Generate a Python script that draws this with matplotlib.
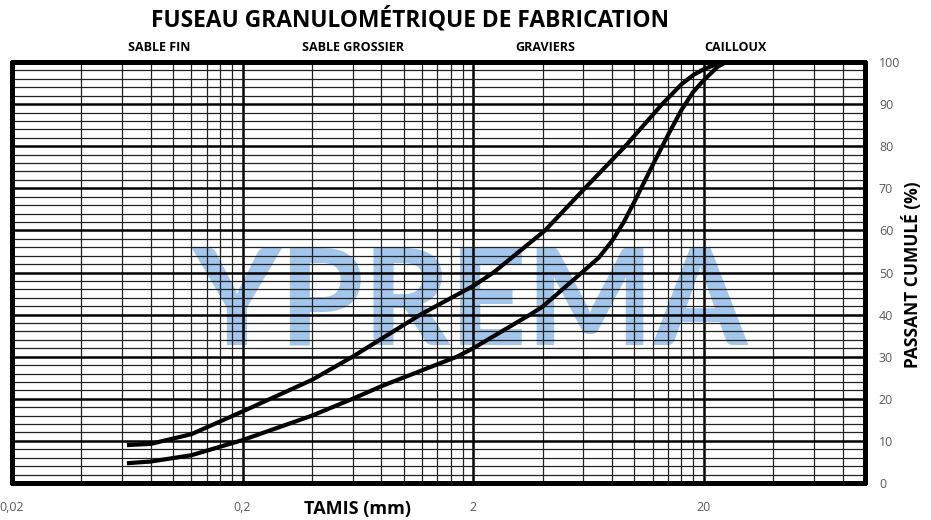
import matplotlib
matplotlib.use("Agg")
import matplotlib.pyplot as plt
from matplotlib.ticker import FixedLocator, NullFormatter

# ---- data ----
upper_sizes = [0.063, 0.08, 0.12, 0.2, 0.4, 0.6, 1.18, 2, 2.45, 4.1, 6, 9.13, 13.2, 16, 18, 20, 24]
upper_pass = [9.0, 9.3, 11.6, 17.0, 24.5, 30.0, 40.0, 46.8, 50.0, 60.0, 69.6, 80.0, 90.0, 94.7, 96.9, 98.3, 100.0]

lower_sizes = [0.063, 0.08, 0.12, 0.2, 0.4, 0.6, 0.8, 1.7, 2, 3.53, 4, 5.92, 7, 8, 9, 10, 12, 14, 16, 18, 20, 23, 25]
lower_pass = [4.7, 5.1, 6.6, 10.2, 16.0, 20.0, 23.0, 30.0, 32.0, 40.0, 41.9, 50.0, 53.5, 57.5, 62.0,
              66.8, 75.5, 82.7, 88.6, 92.9, 95.7, 98.9, 100.0]

x_major = [0.02, 0.2, 2, 20]
x_major_labels = ["0,02", "0,2", "2", "20"]
x_minor = [b * k for b in (0.02, 0.2, 2) for k in range(2, 10)] + [40, 60, 80]
y_major = list(range(0, 101, 10))
y_minor = list(range(0, 101, 2))

zones = ["SABLE FIN", "SABLE GROSSIER", "GRAVIERS", "CAILLOUX"]
zone_x = [0.087, 0.6, 4.1, 27.4]

title = "FUSEAU GRANULOMÉTRIQUE DE FABRICATION"
xlabel = "TAMIS (mm)"
ylabel = "PASSANT CUMULÉ (%)"
watermark = "YPREMA"

# ---- figure ----
W, H = 931, 520
fig = plt.figure(figsize=(W / 100, H / 100), dpi=100)
L, R, T, B = 12, 865, 62, 483
ax = fig.add_axes([L / W, 1 - B / H, (R - L) / W, (B - T) / H])

ax.set_xscale("log")
ax.set_xlim(0.02, 100)
ax.set_ylim(0, 100)

ax.xaxis.set_major_locator(FixedLocator(x_major))
ax.xaxis.set_minor_locator(FixedLocator(x_minor))
ax.xaxis.set_minor_formatter(NullFormatter())
ax.set_xticklabels(x_major_labels)
ax.yaxis.set_major_locator(FixedLocator(y_major))
ax.yaxis.set_minor_locator(FixedLocator(y_minor))
ax.yaxis.tick_right()

ax.tick_params(which="both", length=0)
ax.tick_params(axis="x", pad=13, labelsize=9, labelcolor="#595959")
ax.tick_params(axis="y", pad=10, labelsize=9, labelcolor="#595959")
for lab in ax.get_xticklabels() + ax.get_yticklabels():
    lab.set_family("Open Sans")

ax.grid(which="minor", color="#222222", lw=0.9, zorder=1)
ax.grid(which="major", color="black", lw=1.8, zorder=1)
ax.set_axisbelow(True)

for s in ax.spines.values():
    s.set_linewidth(3.6)
    s.set_color("black")
    s.set_capstyle("round")
    s.set_joinstyle("round")

# watermark
ax.text(0.537, 0.33, watermark, transform=ax.transAxes, ha="center", va="baseline",
        fontsize=96, fontweight=900, family=["Lato", "Liberation Sans", "DejaVu Sans"],
        color="#A3C6EC", zorder=0)

ax.plot(upper_sizes, upper_pass, color="black", lw=3.0, solid_joinstyle="round",
        solid_capstyle="butt", zorder=5)
ax.plot(lower_sizes, lower_pass, color="black", lw=3.0, solid_joinstyle="round",
        solid_capstyle="butt", zorder=5)

fig.text(410 / W, 1 - 20 / H, title, ha="center", va="center", fontsize=16.4,
         fontweight="bold", family="Open Sans")
for z, zx in zip(zones, zone_x):
    ax.text(zx, 101.8, z, ha="center", va="bottom", fontsize=9, fontweight="bold",
            family="Open Sans")

fig.text(358 / W, 1 - 509 / H, xlabel, ha="center", va="center", fontsize=13,
         fontweight="bold", family="Open Sans")
fig.text(912 / W, 1 - 275 / H, ylabel, ha="center", va="center", rotation=90,
         fontsize=12.5, fontweight="bold", family="Open Sans")

fig.savefig("out.png", dpi=100)
